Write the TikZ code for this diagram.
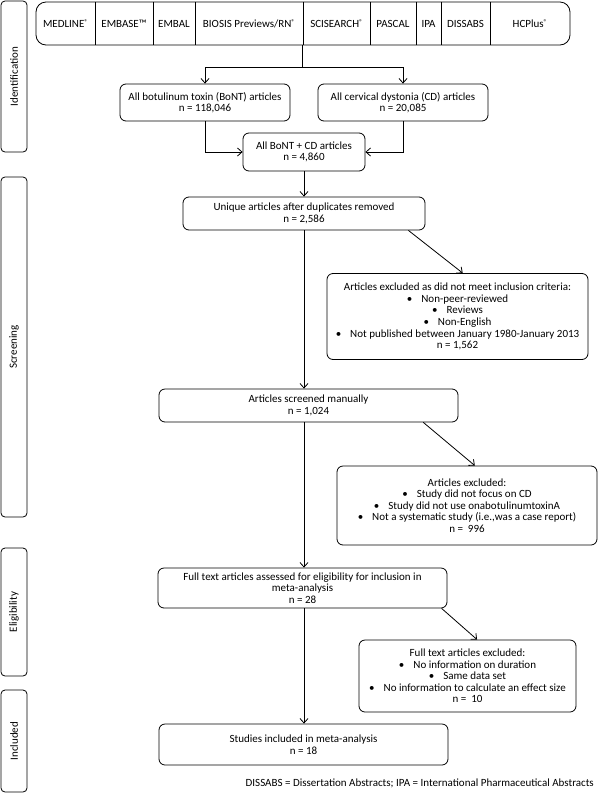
\documentclass[tikz,border=0pt]{standalone}
\usepackage{fontspec}
\setmainfont{Carlito}
\usetikzlibrary{arrows.meta,calc}
\newcommand{\regmark}{{\fontsize{7}{7}\selectfont\raisebox{3pt}{®}}}
\begin{document}
\begin{tikzpicture}[x=1pt,y=-1pt,
  box/.style={draw, rounded corners=6pt, align=center, inner sep=0.5pt, line width=0.8pt, font=\fontsize{11}{11.6}\selectfont},
  stage/.style={draw, rounded corners=4pt, line width=0.8pt, rotate=90, minimum height=26pt, inner sep=0pt, font=\fontsize{11}{12}\selectfont},
  dbcell/.style={inner sep=0pt, minimum height=43pt, font=\fontsize{11}{12}\selectfont},
  conn/.style={line width=0.8pt},
  arr/.style={conn, -{Straight Barb[length=4.5pt,width=8pt]}}]
\useasboundingbox (0,0) rectangle (600,793);

% stage labels
\node[stage, minimum width=151pt] (sid) at (14,76.5) {Identification};
\node[stage, minimum width=340pt] (sscr) at (14,347) {Screening};
\node[stage, minimum width=128pt] (selig) at (14,612) {Eligibility};
\node[stage, minimum width=102pt] (sinc) at (14,741) {Included};

% databases row
\node[draw, rounded corners=10pt, line width=0.8pt, minimum width=534pt, minimum height=43pt, inner sep=0pt] (dbrow) at (303,23.5) {};
\node[dbcell, minimum width=59pt] (medline) at (65.5,23.5) {MEDLINE\regmark};
\node[dbcell, minimum width=58pt] (embase) at (124,23.5) {EMBASE™};
\node[dbcell, minimum width=42pt] (embal) at (174,23.5) {EMBAL};
\node[dbcell, minimum width=108pt] (biosis) at (249,23.5) {BIOSIS Previews/RN\regmark};
\node[dbcell, minimum width=67pt] (scisearch) at (336.5,23.5) {SCISEARCH\regmark};
\node[dbcell, minimum width=46pt] (pascal) at (393,23.5) {PASCAL};
\node[dbcell, minimum width=25pt] (ipa) at (428.5,23.5) {IPA};
\node[dbcell, minimum width=49pt] (dissabs) at (465.5,23.5) {DISSABS};
\node[dbcell, minimum width=80pt] (hcplus) at (530,23.5) {HCPlus\regmark};
\foreach \c in {medline,embase,embal,biosis,scisearch,pascal,ipa,dissabs}
  \draw[conn] (\c.north east) -- (\c.south east);

% flow boxes
\node[box, minimum width=170pt, minimum height=37pt] (bont) at (205,102.5) {All botulinum toxin (BoNT) articles\\n = 118,046};
\node[box, minimum width=170pt, minimum height=37pt] (cd) at (403,102.5) {All cervical dystonia (CD) articles\\n = 20,085};
\node[box, minimum width=122pt, minimum height=38pt] (both) at (304,152) {All BoNT + CD articles\\n = 4,860};
\node[box, minimum width=242pt, minimum height=33pt] (unique) at (304,213.5) {Unique articles after duplicates removed\\n = 2,586};
\node[box, minimum width=261pt, minimum height=86pt] (excl1) at (457.5,316.5) {Articles excluded as did not meet inclusion criteria:\\
  •\hspace{9pt}Non-peer-reviewed\\
  •\hspace{9pt}Reviews\\
  •\hspace{9pt}Non-English\\
  •\hspace{9pt}Not published between January 1980-January 2013\\
  n = 1,562};
\node[box, minimum width=299pt, minimum height=33pt] (screened) at (308.5,405.5) {Articles screened manually\\n = 1,024};
\node[box, minimum width=260pt, minimum height=79pt] (excl2) at (467,505.5) {Articles excluded:\\
  •\hspace{9pt}Study did not focus on CD\\
  •\hspace{9pt}Study did not use onabotulinumtoxinA\\
  •\hspace{9pt}Not a systematic study (i.e.,was a case report)\\
  n =\ \ 996};
\node[box, minimum width=289pt, minimum height=40pt] (fulltext) at (302.5,588) {Full text articles assessed for eligibility for inclusion in\\meta-analysis\\n = 28};
\node[box, minimum width=217pt, minimum height=72pt] (excl3) at (467.5,676) {Full text articles excluded:\\
  •\hspace{9pt}No information on duration\\
  •\hspace{9pt}Same data set\\
  •\hspace{9pt}No information to calculate an effect size\\
  n =\ \ 10};
\node[box, minimum width=289pt, minimum height=41pt] (studies) at (303.5,744.5) {Studies included in meta-analysis\\n = 18};

\node[anchor=east, inner sep=0pt, font=\fontsize{11}{12}\selectfont] (note) at (594,783) {DISSABS = Dissertation Abstracts; IPA = International Pharmaceutical Abstracts};

% connectors
\coordinate (split) at (scisearch.south west |- 0,67);
\draw[conn] (scisearch.south west) -- (split);
\draw[arr] (split) -| (bont.north);
\draw[arr] (split) -| (cd.north);
\draw[arr] (bont.south) |- (both.west);
\draw[arr] (cd.south) |- (both.east);
\draw[arr] (both.south) -- (unique.north);
\draw[arr] (unique.south) -- (unique.south |- screened.north);
\draw[arr] ($(unique.south west)!0.93!(unique.south east)$) -- ($(excl1.north west)!0.52!(excl1.north east)$);
\draw[arr] (unique.south |- screened.south) -- (unique.south |- fulltext.north);
\draw[arr] ($(screened.south west)!0.883!(screened.south east)$) -- ($(excl2.north west)!0.53!(excl2.north east)$);
\draw[arr] (unique.south |- fulltext.south) -- (unique.south |- studies.north);
\draw[arr] ($(fulltext.south west)!0.98!(fulltext.south east)$) -- ($(excl3.north west)!0.544!(excl3.north east)$);
\end{tikzpicture}
\end{document}
